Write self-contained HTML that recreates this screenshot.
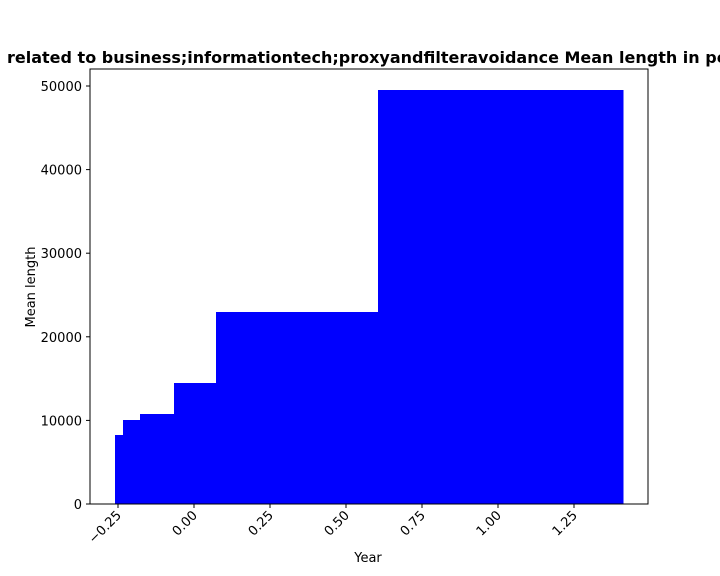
<!DOCTYPE html>
<html><head><meta charset="utf-8"><style>
html,body{margin:0;padding:0;background:#fff;width:720px;height:576px;overflow:hidden}
svg{display:block;font-family:"DejaVu Sans","Liberation Sans",sans-serif}
</style></head><body>
<svg id="chart" width="720" height="576">
<text x="7" y="63" font-size="16" font-weight="bold" fill="#000">related to business;informationtech;proxyandfilteravoidance Mean length in per year</text>
<g id="bars" shape-rendering="crispEdges"></g>
<rect x="90" y="69" width="558" height="435" fill="none" stroke="#000" stroke-width="1"/>
<g id="axes"></g>
<text x="368" y="562" font-size="13" text-anchor="middle">Year</text>
<text x="35" y="287" font-size="13" text-anchor="middle" transform="rotate(-90 35 287)">Mean length</text>
</svg>
<script>
const barLefts = [-0.26, -0.234, -0.178, -0.066, 0.072, 0.605];
const barRights = [-0.234, -0.178, -0.066, 0.072, 0.605, 1.411];
const barValues = [8250, 10050, 10770, 14470, 22970, 49520];
const xTicks = [-0.25, 0, 0.25, 0.5, 0.75, 1.0, 1.25];
const xTickLabels = ["\u22120.25", "0.00", "0.25", "0.50", "0.75", "1.00", "1.25"];
const yTicks = [0, 10000, 20000, 30000, 40000, 50000];
const yTickLabels = ["0", "10000", "20000", "30000", "40000", "50000"];

const NS = "http://www.w3.org/2000/svg";
const xs = v => 194 + v * 304;
const ys = v => 504 - v * 0.00836;
const bars = document.getElementById("bars");
const axes = document.getElementById("axes");
function mk(tag, attrs, parent) {
  const e = document.createElementNS(NS, tag);
  for (const k in attrs) e.setAttribute(k, attrs[k]);
  parent.appendChild(e);
  return e;
}
barValues.forEach((v, i) => {
  const x1 = xs(barLefts[i]), x2 = xs(barRights[i]);
  const r = mk("rect", {x: x1, y: ys(v), width: x2 - x1 + 0.6, height: ys(0) - ys(v), fill: "#0000ff"}, bars);
  
  
});
xTicks.forEach((t, i) => {
  const x = xs(t);
  const l = mk("line", {x1: x, x2: x, y1: 504, y2: 508, stroke: "#000"}, axes);
  
  
  const tx = mk("text", {x: x + 4, y: 516, "font-size": 13, "text-anchor": "end", transform: `rotate(-45 ${x + 4} 516)`}, axes);
  tx.textContent = xTickLabels[i];
  
  
});
yTicks.forEach((t, i) => {
  const y = ys(t);
  const l = mk("line", {x1: 86, x2: 90, y1: y, y2: y, stroke: "#000"}, axes);
  
  
  const tx = mk("text", {x: 82, y: y + 5, "font-size": 13, "text-anchor": "end"}, axes);
  tx.textContent = yTickLabels[i];
  
  
});
</script>
</body></html>
